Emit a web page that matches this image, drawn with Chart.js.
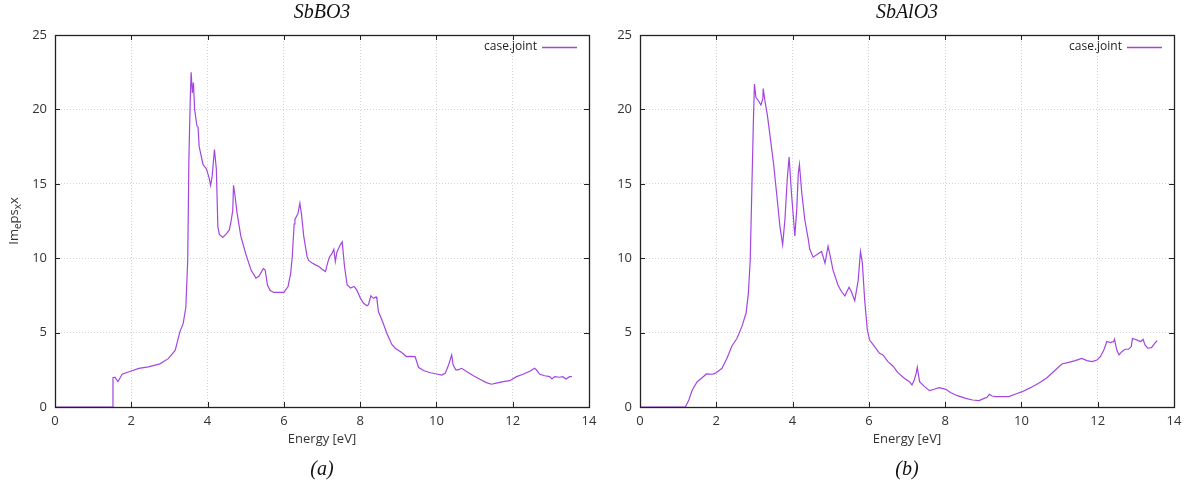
<!DOCTYPE html>
<html>
<head>
<meta charset="utf-8">
<script src="https://cdn.jsdelivr.net/npm/chart.js@4.4.1/dist/chart.umd.min.js"></script>
<style>
    html, body { margin: 0; padding: 0; background: #fff; }
    #wrap { position: relative; width: 1188px; height: 486px; overflow: hidden; }
    .panel { position: absolute; top: 0; height: 486px; }
</style>
</head>
<body>
<div id="wrap">
    <div class="panel" style="left:0;width:610px"><canvas id="chartA"></canvas></div>
    <div class="panel" style="left:594px;width:594px"><canvas id="chartB"></canvas></div>
</div>
<script>
    // (a) SbBO3
    const energyA = [0, 1.50, 1.52, 1.57, 1.65, 1.76, 1.98, 2.20, 2.45, 2.75,
        2.97, 3.15, 3.28, 3.36, 3.43, 3.48, 3.51, 3.55, 3.57, 3.60,
        3.63, 3.66, 3.72, 3.75, 3.78, 3.88, 3.97, 4.04, 4.08, 4.12,
        4.18, 4.23, 4.27, 4.31, 4.40, 4.48, 4.57, 4.61, 4.66, 4.68,
        4.72, 4.77, 4.87, 5.00, 5.14, 5.27, 5.35, 5.46, 5.51, 5.57,
        5.64, 5.74, 6.00, 6.11, 6.18, 6.22, 6.27, 6.29, 6.33, 6.37,
        6.42, 6.46, 6.52, 6.61, 6.65, 6.74, 6.83, 6.92, 7.00, 7.09,
        7.15, 7.20, 7.26, 7.31, 7.35, 7.39, 7.48, 7.53, 7.59, 7.66,
        7.75, 7.84, 7.91, 8.01, 8.09, 8.18, 8.22, 8.28, 8.35, 8.42,
        8.44, 8.48, 8.57, 8.70, 8.83, 8.92, 9.09, 9.21, 9.31, 9.44,
        9.47, 9.53, 9.66, 9.84, 10.01, 10.14, 10.23, 10.30, 10.36, 10.40,
        10.44, 10.51, 10.57, 10.66, 10.79, 10.97, 11.14, 11.31, 11.44, 11.57,
        11.75, 11.92, 12.10, 12.27, 12.45, 12.57, 12.62, 12.71, 12.84, 12.97,
        13.03, 13.10, 13.23, 13.31, 13.40, 13.49, 13.55];
    const imEpsA = [0, 0, 1.97, 2.0, 1.7, 2.2, 2.4, 2.6, 2.7, 2.9,
        3.25, 3.8, 5.1, 5.6, 6.7, 9.9, 16.6, 21.1, 22.5, 21.1,
        21.8, 20.0, 18.9, 18.8, 17.5, 16.3, 16.0, 15.4, 14.9, 15.5,
        17.3, 16.0, 12.1, 11.6, 11.4, 11.6, 11.9, 12.4, 13.2, 14.9,
        14.2, 13.1, 11.5, 10.3, 9.2, 8.66, 8.8, 9.3, 9.2, 8.2,
        7.83, 7.7, 7.7, 8.1, 9.0, 10.1, 12.3, 12.6, 12.8, 13.0,
        13.7, 13.0, 11.5, 10.1, 9.85, 9.67, 9.55, 9.44, 9.26, 9.1,
        9.7, 10.1, 10.3, 10.6, 9.78, 10.4, 10.9, 11.1, 9.44, 8.2,
        8.0, 8.1, 7.87, 7.3, 6.97, 6.8, 6.9, 7.47, 7.3, 7.4,
        7.25, 6.4, 5.86, 4.96, 4.2, 3.95, 3.66, 3.39, 3.4, 3.39,
        3.16, 2.67, 2.45, 2.3, 2.22, 2.15, 2.26, 2.7, 3.16, 3.5,
        2.8, 2.5, 2.5, 2.6, 2.38, 2.1, 1.86, 1.64, 1.53, 1.6,
        1.7, 1.77, 2.04, 2.2, 2.4, 2.6, 2.5, 2.2, 2.1, 2.04,
        1.88, 2.04, 2.0, 2.04, 1.88, 2.04, 2.04];

    // (b) SbAlO3
    const energyB = [0, 1.19, 1.28, 1.37, 1.50, 1.63, 1.74, 1.89, 1.97, 2.15,
        2.28, 2.41, 2.54, 2.67, 2.78, 2.84, 2.89, 2.93, 2.97, 3.00,
        3.04, 3.10, 3.17, 3.22, 3.23, 3.28, 3.34, 3.41, 3.50, 3.58,
        3.67, 3.74, 3.80, 3.86, 3.91, 3.97, 4.06, 4.11, 4.15, 4.18,
        4.24, 4.32, 4.41, 4.45, 4.54, 4.67, 4.76, 4.85, 4.93, 4.99,
        5.06, 5.19, 5.28, 5.37, 5.48, 5.54, 5.63, 5.72, 5.78, 5.83,
        5.89, 5.96, 6.02, 6.15, 6.28, 6.37, 6.50, 6.63, 6.76, 6.93,
        7.06, 7.13, 7.19, 7.24, 7.27, 7.33, 7.46, 7.59, 7.71, 7.84,
        8.02, 8.15, 8.32, 8.54, 8.72, 8.89, 9.02, 9.10, 9.16, 9.23,
        9.32, 9.50, 9.67, 9.85, 10.02, 10.24, 10.45, 10.67, 10.89, 11.06,
        11.24, 11.41, 11.58, 11.72, 11.85, 11.98, 12.07, 12.16, 12.24, 12.33,
        12.42, 12.44, 12.50, 12.56, 12.63, 12.72, 12.81, 12.88, 12.91, 12.98,
        13.06, 13.13, 13.19, 13.24, 13.31, 13.41, 13.50, 13.56];
    const imEpsB = [0, 0, 0.47, 1.14, 1.7, 1.97, 2.22, 2.2, 2.26, 2.6,
        3.27, 4.1, 4.6, 5.4, 6.3, 7.6, 9.9, 14.4, 18.9, 21.7,
        20.8, 20.6, 20.3, 20.7, 21.4, 20.5, 19.6, 18.2, 16.4, 14.4,
        12.1, 10.9, 12.6, 15.3, 16.8, 14.4, 11.5, 13.3, 15.7, 16.3,
        14.4, 12.6, 11.3, 10.6, 10.07, 10.3, 10.45, 9.67, 10.8, 10.1,
        9.2, 8.2, 7.76, 7.47, 8.05, 7.76, 7.15, 8.5, 10.45, 9.67,
        7.2, 5.18, 4.5, 4.06, 3.61, 3.5, 3.05, 2.76, 2.31, 1.93,
        1.7, 1.48, 1.82, 2.26, 2.67, 1.7, 1.37, 1.1, 1.19, 1.3,
        1.19, 0.96, 0.76, 0.58, 0.47, 0.43, 0.58, 0.65, 0.85, 0.74,
        0.7, 0.7, 0.7, 0.87, 1.03, 1.3, 1.59, 1.97, 2.49, 2.89,
        3.0, 3.12, 3.27, 3.12, 3.05, 3.16, 3.38, 3.83, 4.4, 4.33,
        4.4, 4.55, 3.83, 3.5, 3.72, 3.88, 3.88, 4.06, 4.6, 4.55,
        4.46, 4.4, 4.55, 4.17, 3.95, 3.99, 4.29, 4.46];

    const xTicks = [0, 2, 4, 6, 8, 10, 12, 14];
    const yTicks = [0, 5, 10, 15, 20, 25];
    const lineColor = "#a346e0";
    const sans = "Open Sans";

    // draws "Im_e ps_x x" rotated, with real subscripts
    function drawYTitle(ctx, cx, cy) {
        let parts = [["Im", 0], ["e", 1], ["ps", 0], ["x", 1], ["x", 0]];
        let big = "13px '" + sans + "'", small = "10px '" + sans + "'";
        let total = 0;
        parts.forEach(p => { ctx.font = p[1] ? small : big; total += ctx.measureText(p[0]).width; });
        ctx.save();
        ctx.translate(cx, cy);
        ctx.rotate(-Math.PI / 2);
        ctx.textAlign = "left";
        ctx.textBaseline = "alphabetic";
        let pos = -total / 2;
        parts.forEach(p => {
            ctx.font = p[1] ? small : big;
            ctx.fillText(p[0], pos, p[1] ? 7 : 4);
            pos += ctx.measureText(p[0]).width;
        });
        ctx.restore();
    }

    // gnuplot style box, inward ticks, title, caption and legend
    const framePlugin = {
        id: "frame",
        afterDraw(chart, args, opts) {
            let ctx = chart.ctx, a = chart.chartArea;
            let x = chart.scales.x, y = chart.scales.y;
            ctx.save();
            ctx.strokeStyle = "#222";
            ctx.lineWidth = 1;
            ctx.beginPath();
            x.ticks.forEach(t => {
                let px = Math.round(x.getPixelForValue(t.value)) + 0.5;
                ctx.moveTo(px, a.bottom); ctx.lineTo(px, a.bottom - 5);
                ctx.moveTo(px, a.top); ctx.lineTo(px, a.top + 5);
            });
            y.ticks.forEach(t => {
                let py = Math.round(y.getPixelForValue(t.value)) + 0.5;
                ctx.moveTo(a.left, py); ctx.lineTo(a.left + 5, py);
                ctx.moveTo(a.right, py); ctx.lineTo(a.right - 5, py);
            });
            ctx.stroke();
            ctx.lineWidth = 1.3;
            ctx.strokeRect(Math.round(a.left) + 0.5, Math.round(a.top) + 0.5, Math.round(a.width), Math.round(a.height));

            let cx = (a.left + a.right) / 2;
            ctx.fillStyle = "#111";
            ctx.textAlign = "center";
            ctx.textBaseline = "middle";
            ctx.font = "italic 20px 'Liberation Serif'";
            ctx.fillText(opts.title, cx, 13);
            ctx.fillText(opts.caption, cx, 470);

            ctx.font = "12px '" + sans + "'";
            ctx.textAlign = "right";
            ctx.fillStyle = "#222";
            ctx.fillText(chart.data.datasets[0].label, a.right - 52, a.top + 12);
            ctx.strokeStyle = lineColor;
            ctx.lineWidth = 1.3;
            ctx.beginPath();
            ctx.moveTo(a.right - 47, a.top + 12.5);
            ctx.lineTo(a.right - 12, a.top + 12.5);
            ctx.stroke();

            if (opts.yTitle) {
                ctx.fillStyle = "#333";
                drawYTitle(ctx, 14, (a.top + a.bottom) / 2);
            }
            ctx.restore();
        }
    };

    function makeChart(id, energy, values, title, caption, yWidth, rightPad, yTitle) {
        let ctx = document.getElementById(id).getContext("2d");
        return new Chart(ctx, {
            type: "line",
            data: {
                datasets: [{
                    label: "case.joint",
                    data: energy.map((e, i) => ({ x: e, y: values[i] })),
                    borderColor: lineColor,
                    borderWidth: 1.2,
                    pointRadius: 0,
                    tension: 0,
                    fill: false
                }]
            },
            options: {
                responsive: true,
                maintainAspectRatio: false,
                animation: false,
                layout: { padding: { top: 35, right: rightPad, bottom: 38, left: 0 } },
                plugins: {
                    legend: { display: false },
                    tooltip: { enabled: false },
                    frame: { title: title, caption: caption, yTitle: yTitle }
                },
                scales: {
                    x: {
                        type: "linear", min: 0, max: 14,
                        afterBuildTicks: s => { s.ticks = xTicks.map(v => ({ value: v })); },
                        afterFit: s => { s.height = 41; s.paddingLeft = 0; s.paddingRight = 0; },
                        grid: { color: "#d4d4d4", drawTicks: false },
                        border: { display: false, dash: [1, 2] },
                        ticks: { padding: 6, color: "#333", font: { family: sans, size: 13 } },
                        title: { display: true, text: "Energy [eV]", color: "#333", padding: { top: 0, bottom: 1 }, font: { family: sans, size: 13 } }
                    },
                    y: {
                        min: 0, max: 25,
                        afterBuildTicks: s => { s.ticks = yTicks.map(v => ({ value: v })); },
                        afterFit: s => { s.width = yWidth; s.paddingTop = 0; s.paddingBottom = 0; },
                        grid: { color: "#d4d4d4", drawTicks: false },
                        border: { display: false, dash: [1, 2] },
                        ticks: { padding: 8, color: "#333", font: { family: sans, size: 13 } }
                    }
                }
            },
            plugins: [framePlugin]
        });
    }

    makeChart("chartA", energyA, imEpsA, "SbBO3", "(a)", 55, 21, true);
    makeChart("chartB", energyB, imEpsB, "SbAlO3", "(b)", 46, 14, false);
</script>
</body>
</html>
